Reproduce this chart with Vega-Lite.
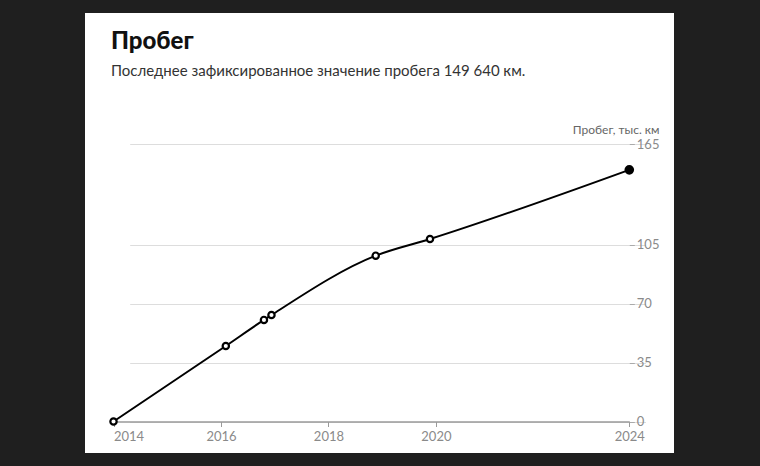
{
  "$schema": "https://vega.github.io/schema/vega-lite/v6.json",
  "autosize": {"type": "none"},
  "width": 589,
  "height": 440,
  "padding": {"left": 85, "top": 13, "right": 86, "bottom": 13},
  "background": "#1f1f1f",
  "config": {
    "view": {"fill": "#ffffff", "stroke": null},
    "font": "Lato"
  },
  "title": {
    "text": "Пробег",
    "subtitle": "Последнее зафиксированное значение пробега 149\u202f640\u202fкм.",
    "orient": "top",
    "anchor": "start",
    "frame": "group",
    "dx": 26,
    "offset": -66,
    "font": "Lato",
    "fontSize": 24,
    "fontWeight": 900,
    "color": "#111111",
    "subtitleFont": "Lato",
    "subtitleFontSize": 15,
    "subtitleColor": "#333333",
    "subtitlePadding": 10
  },
  "data": {
    "values": [
      {"year": 2014.0, "km": 0, "last": false},
      {"year": 2016.09, "km": 44.9, "last": false},
      {"year": 2016.8, "km": 60.4, "last": false},
      {"year": 2016.94, "km": 63.3, "last": false},
      {"year": 2018.88, "km": 98.6, "last": false},
      {"year": 2019.89, "km": 108.5, "last": false},
      {"year": 2023.6, "km": 149.64, "last": true}
    ]
  },
  "encoding": {
    "x": {
      "field": "year",
      "type": "quantitative",
      "scale": {"domain": [2014, 2023.6], "range": [28.5, 544.3], "nice": false, "zero": false},
      "axis": {
        "orient": "bottom",
        "offset": -31.5,
        "title": null,
        "values": [2014, 2016, 2018, 2020, 2023.6],
        "format": "d",
        "labelExpr": "datum.value > 2023 ? '2024' : datum.label",
        "labelFlush": false,
        "labelAlign": {"condition": {"test": "datum.value <= 2014", "value": "left"}, "value": "center"},
        "grid": false,
        "domain": true,
        "domainColor": "#9a9a9a",
        "domainWidth": 1.5,
        "ticks": true,
        "tickColor": "#9a9a9a",
        "tickSize": 5,
        "labelPadding": 3.5,
        "labelFont": "Lato",
        "labelFontSize": 13,
        "labelColor": "#8a8a8a"
      }
    },
    "y": {
      "field": "km",
      "type": "quantitative",
      "scale": {"domain": [0, 165], "range": [408.5, 131], "nice": false, "zero": false},
      "axis": {
        "orient": "right",
        "offset": -44.7,
        "values": [0, 35, 70, 105, 165],
        "title": "Пробег, тыс. км",
        "titleAngle": 0,
        "titleAlign": "right",
        "titleBaseline": "alphabetic",
        "titleX": 29.7,
        "titleY": 120.5,
        "titleFont": "Lato",
        "titleFontSize": 12,
        "titleFontWeight": "normal",
        "titleColor": "#666666",
        "grid": true,
        "gridColor": "#dddddd",
        "gridWidth": 1,
        "domain": false,
        "ticks": true,
        "tickColor": "#aaaaaa",
        "tickSize": 5,
        "labelPadding": 2,
        "labelFont": "Lato",
        "labelFontSize": 13,
        "labelColor": "#8a8a8a"
      }
    }
  },
  "layer": [
    {
      "mark": {"type": "line", "interpolate": "monotone", "color": "#000000", "strokeWidth": 2}
    },
    {
      "mark": {"type": "point", "shape": "circle", "filled": false, "strokeWidth": 2.2, "opacity": 1},
      "encoding": {
        "fill": {"condition": {"test": "datum.last", "value": "#000000"}, "value": "#ffffff"},
        "stroke": {"value": "#000000"},
        "size": {"condition": {"test": "datum.last", "value": 55}, "value": 40}
      }
    }
  ]
}
